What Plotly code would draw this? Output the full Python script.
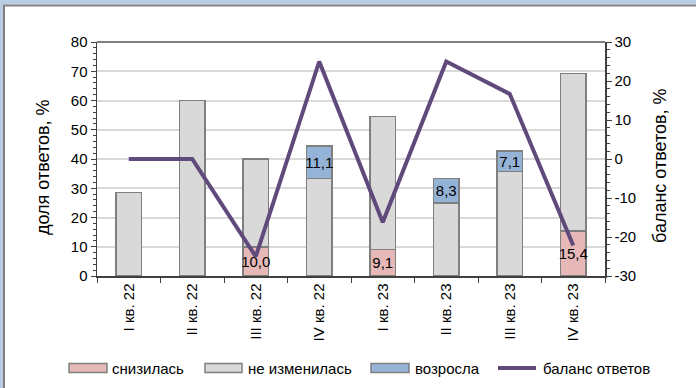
import plotly.graph_objects as go

categories = ["I кв. 22", "II кв. 22", "III кв. 22", "IV кв. 22",
              "I кв. 23", "II кв. 23", "III кв. 23", "IV кв. 23"]
decreased = [None, None, 10.0, None, 9.1, None, None, 15.4]
unchanged = [28.6, 60.0, 30.0, 33.3, 45.5, 25.0, 35.7, 53.8]
increased = [None, None, None, 11.1, None, 8.3, 7.1, None]
balance = [0, 0, -25.0, 25.0, -16.2, 25.0, 16.7, -22.2]

left_tickvals = [0, 10, 20, 30, 40, 50, 60, 70, 80]
right_tickvals = [-30, -20, -10, 0, 10, 20, 30]
right_ticktext = ["-30", "-20", "-10", "0", "10", "20", "30"]

names = ["снизилась", "не изменилась", "возросла", "баланс ответов"]
left_title = "доля ответов, %"
right_title = "баланс ответов, %"

PINK = "#E6B9B8"
GREY = "#D9D9D9"
BLUE = "#95B3D7"
PURPLE = "#604A7B"
OUTLINE = "#7F7F7F"
FONT = "Liberation Sans, Arial, sans-serif"

W, H = 696, 388
L, R, T, B = 97, 91, 42, 112
PW, PH = W - L - R, H - T - B


def px(x):
    return (x - L) / PW


def py(y):
    return (H - B - y) / PH


def lab(vals):
    return [("" if v is None else f"{v:.1f}".replace(".", ",")) for v in vals]


fig = go.Figure()
bar_common = dict(marker_line_color=OUTLINE, marker_line_width=1.5,
                  textposition="inside", insidetextanchor="middle",
                  textangle=0, constraintext="none",
                  textfont=dict(size=15, color="black", family=FONT),
                  showlegend=False, hoverinfo="skip")
fig.add_trace(go.Bar(x=categories, y=decreased, name=names[0],
                     marker_color=PINK, text=lab(decreased), **bar_common))
fig.add_trace(go.Bar(x=categories, y=unchanged, name=names[1],
                     marker_color=GREY, text=[""] * len(unchanged), **bar_common))
fig.add_trace(go.Bar(x=categories, y=increased, name=names[2],
                     marker_color=BLUE, text=lab(increased), **bar_common))
fig.add_trace(go.Scatter(x=categories, y=balance, name=names[3], yaxis="y2",
                         mode="lines", line=dict(color=PURPLE, width=4),
                         showlegend=False))

shapes = []
annotations = []
# outer frame
shapes.append(dict(type="rect", xref="paper", yref="paper", x0=px(0), x1=px(W),
                   y0=py(4.5), y1=py(0), fillcolor="#B9CDE5", line_width=0, layer="below"))
shapes.append(dict(type="rect", xref="paper", yref="paper", x0=px(0), x1=px(3),
                   y0=py(H), y1=py(0), fillcolor="#B9CDE5", line_width=0, layer="below"))
shapes.append(dict(type="line", xref="paper", yref="paper", x0=px(3), x1=px(W),
                   y0=py(5.5), y1=py(5.5), line=dict(color="#808080", width=2)))
shapes.append(dict(type="line", xref="paper", yref="paper", x0=px(4), x1=px(4),
                   y0=py(5), y1=py(H), line=dict(color="#808080", width=2)))
# top border of plot area
shapes.append(dict(type="line", xref="paper", yref="paper", x0=0, x1=1, y0=1, y1=1,
                   line=dict(color="#808080", width=2)))

# custom legend
ly = 368
items = [(69, 107, 110, PINK, "rect"), (205, 242, 246, GREY, "rect"),
         (371, 409, 413, BLUE, "rect"), (498, 536, 541, PURPLE, "line")]
for (x0, x1, tx, col, kind), nm in zip(items, names):
    if kind == "rect":
        shapes.append(dict(type="rect", xref="paper", yref="paper",
                           x0=px(x0), x1=px(x1), y0=py(ly + 4.5), y1=py(ly - 4.5),
                           fillcolor=col, line=dict(color=OUTLINE, width=1.5)))
    else:
        shapes.append(dict(type="line", xref="paper", yref="paper",
                           x0=px(x0), x1=px(x1), y0=py(ly), y1=py(ly),
                           line=dict(color=col, width=4)))
    annotations.append(dict(text=nm, xref="paper", yref="paper", x=px(tx), y=py(ly),
                            xanchor="left", yanchor="middle", showarrow=False,
                            font=dict(size=15, color="black", family=FONT)))

annotations.append(dict(text=left_title, xref="paper", yref="paper", x=px(43), y=py(167),
                        xanchor="center", yanchor="middle", textangle=-90, showarrow=False,
                        font=dict(size=18, color="black", family=FONT)))
annotations.append(dict(text=right_title, xref="paper", yref="paper", x=px(660), y=py(166),
                        xanchor="center", yanchor="middle", textangle=-90, showarrow=False,
                        font=dict(size=18, color="black", family=FONT)))

axis_line = "#404040"
fig.update_layout(
    width=W, height=H,
    margin=dict(l=L, r=R, t=T, b=B, pad=0),
    paper_bgcolor="white", plot_bgcolor="white",
    barmode="stack", bargap=0.606,
    font=dict(family=FONT, size=15, color="black"),
    showlegend=False,
    shapes=shapes, annotations=annotations,
    xaxis=dict(type="category", tickangle=-90, ticks="outside", tickson="boundaries",
               ticklen=5, tickcolor=axis_line, showline=True, linecolor=axis_line,
               linewidth=1.5, showgrid=False, tickfont=dict(size=15, color="black")),
    yaxis=dict(range=[0, 80], tickmode="array", tickvals=left_tickvals,
               ticks="outside", ticklen=5, tickcolor=axis_line,
               showline=True, linecolor=axis_line, linewidth=1.5,
               showgrid=True, gridcolor="#D9D9D9", gridwidth=2, zeroline=False,
               minor=dict(dtick=2, ticks="outside", ticklen=3, tickcolor=axis_line, showgrid=False),
               tickfont=dict(size=15, color="black")),
    yaxis2=dict(range=[-30, 30], tickmode="array", tickvals=right_tickvals,
                ticktext=right_ticktext, overlaying="y", side="right",
                ticks="outside", ticklen=5, tickcolor=axis_line,
                showline=True, linecolor=axis_line, linewidth=1.5,
                showgrid=False, zeroline=False,
                minor=dict(dtick=2, ticks="outside", ticklen=3, tickcolor=axis_line, showgrid=False),
                tickfont=dict(size=15, color="black")),
)

fig.write_html("out.html",
               config={"displayModeBar": False, "staticPlot": True},
               post_script="document.body.style.margin='0';document.body.style.padding='0';"
                           "document.documentElement.style.overflow='hidden';")
